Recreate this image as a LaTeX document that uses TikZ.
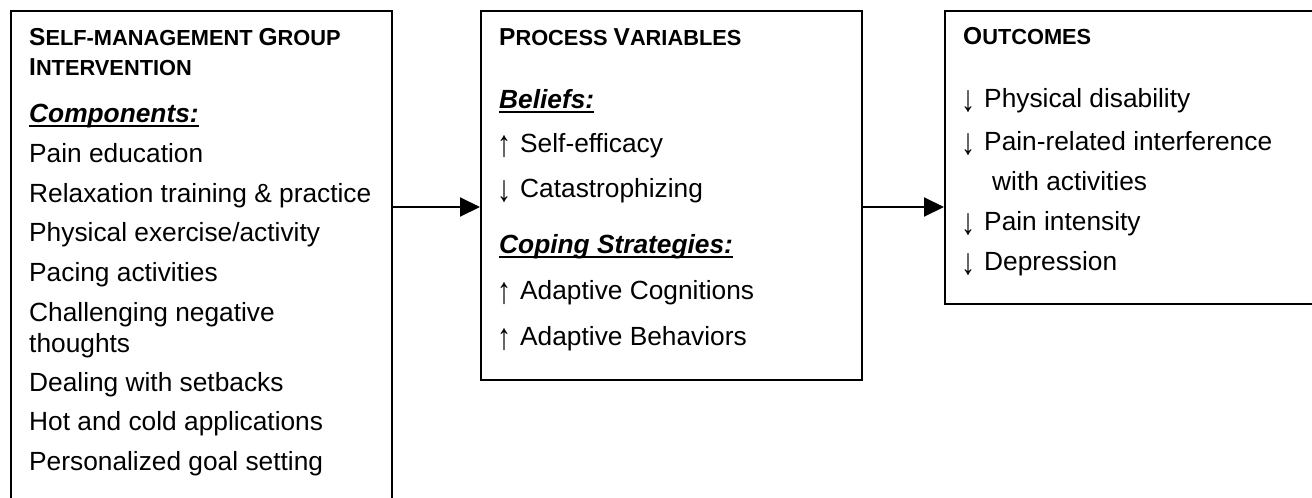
\documentclass[tikz,border=0pt]{standalone}
\usepackage{fontspec}
\setmainfont{Liberation Sans}
\usetikzlibrary{arrows.meta}
\newcommand{\hbig}{\fontsize{24.5}{26}\bfseries\selectfont}
\newcommand{\hsml}{\fontsize{21.8}{24}\bfseries\selectfont}
\newcommand{\ulx}[1]{\setbox0\hbox{#1}\rlap{\rule[-4.5pt]{\wd0}{2pt}}\box0}
\newcommand{\arrg}[1]{\makebox[21pt][l]{\hspace*{-2pt}\raisebox{-4.5pt}{\resizebox*{14pt}{22pt}{#1}}}}
\tikzset{
  box/.style={draw, line width=2.4pt, inner sep=0pt, anchor=north west},
  txt/.style={inner sep=0pt, anchor=base west, font=\fontsize{26.3}{30}\selectfont},
  hd/.style={inner sep=0pt, anchor=base west},
  sub/.style={inner sep=0pt, anchor=base west, font=\fontsize{26.3}{30}\selectfont\bfseries\itshape},
  arr/.style={line width=2pt, -{Triangle[length=20pt,width=19pt]}}
}
\begin{document}
\begin{tikzpicture}[x=1pt,y=-1pt]
\useasboundingbox (0,0) rectangle (1312,498);
% boxes
\node[box, minimum width=381pt, minimum height=515pt] (b1) at (10,10) {};
\node[box, minimum width=381pt, minimum height=369pt] (b2) at (480,10) {};
\node[box, minimum width=390pt, minimum height=293pt] (b3) at (944,10) {};
% connectors
\coordinate (ay) at (0,207);
\draw[arr] (b1.east |- ay) -- (b2.west |- ay);
\draw[arr] (b2.east |- ay) -- (b3.west |- ay);
% box 1 text
\node[hd] (h1a) at (29,45) {{\hbig S}{\hsml ELF-MANAGEMENT }{\hbig G}{\hsml ROUP}};
\node[hd] (h1b) at (29,75) {{\hbig I}{\hsml NTERVENTION}};
\node[sub] (c1) at (29,122) {\ulx{Components:}};
\node[txt] (i1) at (29,162) {Pain education};
\node[txt] (i2) at (29,202) {Relaxation training \& practice};
\node[txt] (i3) at (29,241) {Physical exercise/activity};
\node[txt] (i4) at (29,281) {Pacing activities};
\node[txt] (i5) at (29,321) {Challenging negative};
\node[txt] (i5b) at (29,352) {thoughts};
\node[txt] (i6) at (29,391) {Dealing with setbacks};
\node[txt] (i7) at (29,430) {Hot and cold applications};
\node[txt] (i8) at (29,470) {Personalized goal setting};
% box 2 text
\node[hd] (h2) at (499,45) {{\hbig P}{\hsml ROCESS }{\hbig V}{\hsml ARIABLES}};
\node[sub] (s1) at (499,108) {\ulx{Beliefs:}};
\node[txt] (p1) at (499,152) {\arrg{↑}Self-efficacy};
\node[txt] (p2) at (499,197) {\arrg{↓}Catastrophizing};
\node[sub] (s2) at (499,253) {\ulx{Coping Strategies:}};
\node[txt] (p3) at (499,299) {\arrg{↑}Adaptive Cognitions};
\node[txt] (p4) at (499,345) {\arrg{↑}Adaptive Behaviors};
% box 3 text
\node[hd] (h3) at (963,44) {{\hbig O}{\hsml UTCOMES}};
\node[txt] (o1) at (963,107) {\arrg{↓}Physical disability};
\node[txt] (o2) at (963,150) {\arrg{↓}Pain-related interference};
\node[txt] (o2b) at (992,190) {with activities};
\node[txt] (o3) at (963,230) {\arrg{↓}Pain intensity};
\node[txt] (o4) at (963,270) {\arrg{↓}Depression};
\end{tikzpicture}
\end{document}
